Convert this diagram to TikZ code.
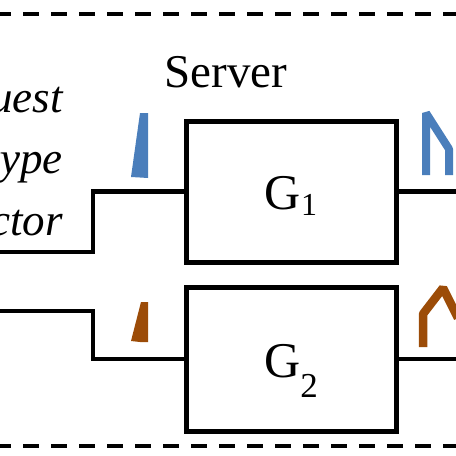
\documentclass[tikz,border=0pt]{standalone}
\usepackage{fontspec}
\setmainfont{Liberation Serif}
\usetikzlibrary{positioning}
\definecolor{bitblue}{RGB}{74,126,187}
\definecolor{bitbrown}{RGB}{156,76,8}
\newcommand{\gname}[3]{\smash{\raisebox{-18pt}{G\raisebox{-#2pt}{\fontsize{#3}{#3}\selectfont #1}}}}
\begin{document}
\begin{tikzpicture}[
        x=1pt, y=-1pt,
        node distance=25pt and 25pt,
        genbox/.style={draw, line width=5pt, outer sep=0pt, inner sep=0pt, minimum width=210pt, minimum height=141pt, font=\fontsize{50}{56}\selectfont},
        wire/.style={line width=4.5pt, line join=miter},
        border/.style={line width=4pt, dash pattern=on 16pt off 12pt, dash phase=0pt},
        lab/.style={font=\fontsize{45}{50}\selectfont\itshape, anchor=base east, inner sep=0pt},
        bluebit/.style={fill=bitblue, draw=none},
        brownbit/.style={fill=bitbrown, draw=none},
        bluepath/.style={draw=bitblue, line width=8pt, line join=bevel},
        brownpath/.style={draw=bitbrown, line width=8.5pt, line join=bevel}
    ]
    \useasboundingbox (0,0) rectangle (456,456);
    \clip (0,0) rectangle (456,456);

    \node[genbox] (g1) at (291,191.5) {\gname{1}{6}{32}};
    \node[genbox, minimum height=144pt, below=25pt of g1] (g2) {\gname{2}{20}{35}};
    \node[font=\fontsize{47}{52}\selectfont, inner sep=0pt] (server) at (226,72) {Server};

    \node[lab] (request) at (63,112) {Request};
    \node[lab] (type) at (63,173) {type};
    \node[lab] (vector) at (63,235.5) {vector};

    \coordinate (inA) at (-5,252);
    \coordinate (bendA) at (93,252);
    \coordinate (inB) at (-5,311);
    \coordinate (bendB) at (93,311);
    \coordinate (outA) at (460,191.5);
    \coordinate (outB) at (460,359);
    \coordinate (topL) at (-5,14);
    \coordinate (topR) at (460,14);
    \coordinate (botL) at (-5,446);
    \coordinate (botR) at (460,446);

    \draw[border] (topL) -- (topR);
    \draw[border] (botL) -- (botR);

    \draw[wire] (inA) -- (bendA) |- (g1.west);
    \draw[wire] (inB) -- (bendB) |- (g2.west);
    \draw[wire] (g1.east) -- (outA);
    \draw[wire] (g2.east) -- (outB);

    \fill[bluebit] (140,113) -- (148,113) -- (148,178) -- (140,177.5) -- (131,177) -- cycle;
    \fill[brownbit] (141,302) -- (148,302) -- (148,342) -- (140,342) -- (131,341) -- cycle;
    \draw[bluepath] (426,175) -- (426,113) -- (449,149) -- (449,175);
    \draw[brownpath] (423,347) -- (423,314) -- (443,288) -- (458,318);
\end{tikzpicture}
\end{document}
